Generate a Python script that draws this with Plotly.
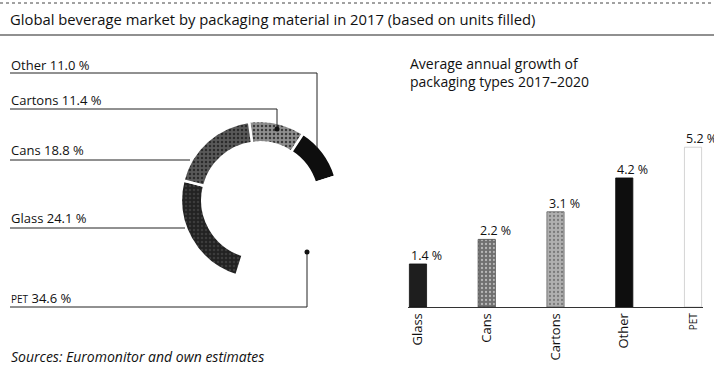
import plotly.graph_objects as go

# donut: share of units filled 2017 (clockwise from top)
pie_labels = ['Cartons', 'Other', 'PET', 'Glass', 'Cans']
pie_values = [11.4, 11.0, 34.6, 24.1, 18.8]
pie_colors = ['#8f8f8f', '#0e0e0e', '#ffffff', '#222222', '#595959']

# bars: average annual growth 2017-2020
bar_cats = ['Glass', 'Cans', 'Cartons', 'Other', 'PET']
bar_values = [1.4, 2.2, 3.1, 4.2, 5.2]
bar_colors = ['#1e1e1e', '#707070', '#b0b0b0', '#0e0e0e', '#ffffff']
bar_ticktext = ['Glass', 'Cans', 'Cartons', 'Other', '<span style="font-size:10px">PET</span>']

W, H = 714, 366
FONT = 'Open Sans'


def px(x):
    return x / W


def py(y):
    return 1 - y / H


fig = go.Figure()

fig.add_trace(go.Pie(
    labels=pie_labels,
    values=pie_values,
    sort=False,
    direction='clockwise',
    rotation=-8,
    hole=0.73,
    textinfo='none',
    hoverinfo='label+percent',
    marker=dict(colors=pie_colors, line=dict(color='white', width=2.5),
                pattern=dict(shape=['.', '', '', '.', '.'], bgcolor=pie_colors,
                             fgcolor=['#3a3a3a', '#0e0e0e', '#ffffff', '#3c3c3c', '#2a2a2a'],
                             size=4, solidity=0.3)),
    domain=dict(x=[px(181), px(339)], y=[py(279), py(121)]),
    showlegend=False,
))

fig.add_trace(go.Bar(
    x=bar_cats,
    y=bar_values,
    width=0.25,
    marker=dict(color=bar_colors,
                line=dict(color=['#111', '#444', '#666', '#0e0e0e', '#c8c8c8'], width=0.8),
                pattern=dict(shape=['', '.', '.', '', ''],
                             fgcolor=['#000', '#333', '#555', '#000', '#fff'],
                             size=4, solidity=0.25)),
    showlegend=False,
    xaxis='x', yaxis='y',
))

fig.update_layout(
    width=W, height=H,
    margin=dict(l=0, r=0, t=0, b=0),
    paper_bgcolor='white',
    plot_bgcolor='white',
    font=dict(family=FONT, size=13, color='#111'),
    xaxis=dict(
        domain=[px(408), px(703)],
        range=[-0.145, 4.145],
        showline=True, linecolor='#333', linewidth=1,
        showgrid=False, zeroline=False,
        tickangle=-90, ticks='',
        tickvals=bar_cats, ticktext=bar_ticktext,
        tickfont=dict(family=FONT, size=13, color='#111'),
        anchor='y',
    ),
    yaxis=dict(
        domain=[py(307), py(138)],
        range=[0, 5.5],
        visible=False,
        anchor='x',
    ),
)

shapes = []
# rules around the title
shapes.append(dict(type='line', xref='paper', yref='paper', x0=0, x1=1, y0=py(3), y1=py(3),
                   line=dict(color='#444', width=1, dash='dot')))
shapes.append(dict(type='line', xref='paper', yref='paper', x0=0, x1=1, y0=py(35), y1=py(35),
                   line=dict(color='#222', width=1.2)))

# leader lines for the donut labels: (label line y, end x, end y or None, dot)
leaders = [
    (73, 317, 148, False),
    (109, 277, 129, True),
    (160, 190, None, False),
    (228, 185, None, False),
    (307, 307, 252, True),
]
for ly, ex, ey, dot in leaders:
    shapes.append(dict(type='line', xref='paper', yref='paper', x0=px(10), x1=px(ex), y0=py(ly), y1=py(ly),
                       line=dict(color='#222', width=1)))
    if ey is not None:
        shapes.append(dict(type='line', xref='paper', yref='paper', x0=px(ex), x1=px(ex), y0=py(ly), y1=py(ey),
                           line=dict(color='#222', width=1)))
        if dot:
            shapes.append(dict(type='circle', xref='paper', yref='paper',
                               x0=px(ex - 2.5), x1=px(ex + 2.5), y0=py(ey - 2.5), y1=py(ey + 2.5),
                               fillcolor='#111', line=dict(color='#111', width=0)))
fig.update_layout(shapes=shapes)

annotations = [
    dict(text='Global beverage market by packaging material in 2017 (based on units filled)',
         x=px(8), y=py(19), font=dict(size=14.8)),
    dict(text='Other 11.0 %', x=px(9), y=py(65)),
    dict(text='Cartons 11.4 %', x=px(9), y=py(100)),
    dict(text='Cans 18.8 %', x=px(9), y=py(150)),
    dict(text='Glass 24.1 %', x=px(9), y=py(218)),
    dict(text='<span style="font-size:10px">PET</span> 34.6 %', x=px(9), y=py(298)),
    dict(text='Average annual growth of<br>packaging types 2017\u20132020', x=px(408), y=py(72),
         font=dict(size=14)),
    dict(text='<i>Sources: Euromonitor and own estimates</i>', x=px(9), y=py(356), font=dict(size=14)),
]
for a in annotations:
    a.update(xref='paper', yref='paper', xanchor='left', yanchor='middle', showarrow=False, align='left')
    a.setdefault('font', dict(size=13))

# value labels above the bars, left-aligned with each bar's left edge
for cat, val in zip(bar_cats, bar_values):
    annotations.append(dict(
        x=cat, y=val, xref='x', yref='y', text=f'{val:.1f} %',
        xanchor='left', yanchor='bottom', xshift=-9, yshift=-2,
        showarrow=False, font=dict(size=12.5), align='left',
    ))
fig.update_layout(annotations=annotations)

fig.write_html('out.html', config={'displayModeBar': False},
               post_script="document.body.style.margin='0px';")
